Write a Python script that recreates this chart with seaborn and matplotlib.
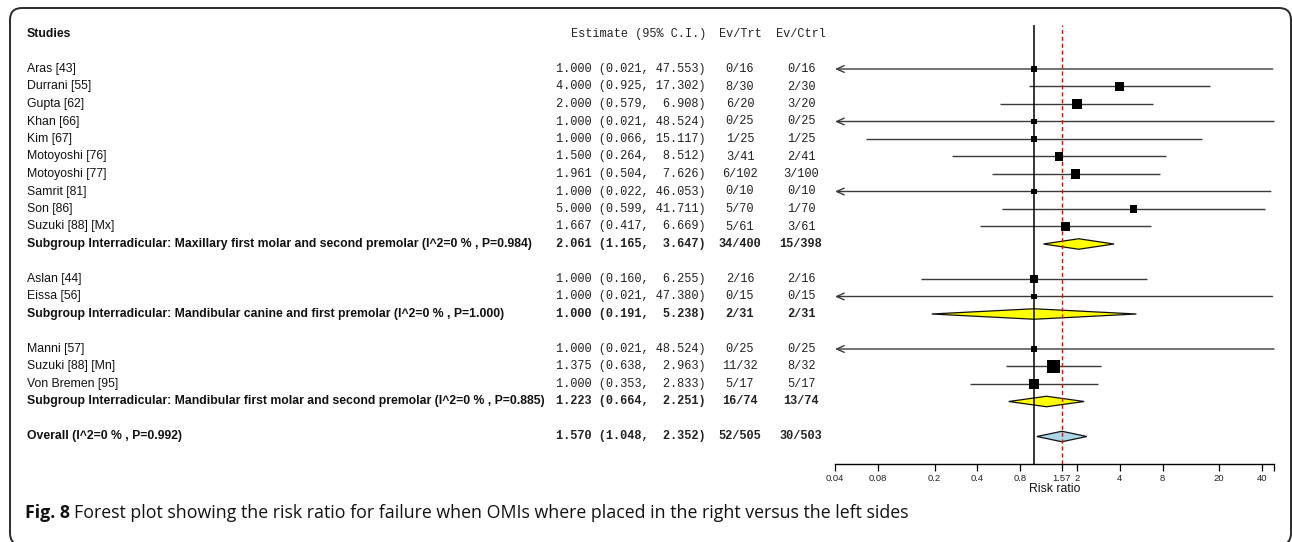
import numpy as np
import matplotlib
matplotlib.use("Agg")
import matplotlib.pyplot as plt
import matplotlib.transforms as mtransforms
from matplotlib.patches import FancyBboxPatch
from matplotlib.ticker import FixedLocator, NullFormatter
import seaborn as sns

# ---- data -------------------------------------------------------------
studies = ["Aras [43]", "Durrani [55]", "Gupta [62]", "Khan [66]", "Kim [67]",
           "Motoyoshi [76]", "Motoyoshi [77]", "Samrit [81]", "Son [86]",
           "Suzuki [88] [Mx]",
           "Aslan [44]", "Eissa [56]",
           "Manni [57]", "Suzuki [88] [Mn]", "Von Bremen [95]"]
study_group = [0, 0, 0, 0, 0, 0, 0, 0, 0, 0, 1, 1, 2, 2, 2]
study_rr = [1.000, 4.000, 2.000, 1.000, 1.000, 1.500, 1.961, 1.000, 5.000, 1.667,
            1.000, 1.000, 1.000, 1.375, 1.000]
study_lo = [0.021, 0.925, 0.579, 0.021, 0.066, 0.264, 0.504, 0.022, 0.599, 0.417,
            0.160, 0.021, 0.021, 0.638, 0.353]
study_hi = [47.553, 17.302, 6.908, 48.524, 15.117, 8.512, 7.626, 46.053, 41.711, 6.669,
            6.255, 47.380, 48.524, 2.963, 2.833]
study_ev_trt = ["0/16", "8/30", "6/20", "0/25", "1/25", "3/41", "6/102", "0/10", "5/70", "5/61",
                "2/16", "0/15", "0/25", "11/32", "5/17"]
study_ev_ctrl = ["0/16", "2/30", "3/20", "0/25", "1/25", "2/41", "3/100", "0/10", "1/70", "3/61",
                 "2/16", "0/15", "0/25", "8/32", "5/17"]

subgroups = ["Maxillary first molar and second premolar",
             "Mandibular canine and first premolar",
             "Mandibular first molar and second premolar"]
subgroup_i2 = [0, 0, 0]
subgroup_p = [0.984, 1.000, 0.885]
subgroup_rr = [2.061, 1.000, 1.223]
subgroup_lo = [1.165, 0.191, 0.664]
subgroup_hi = [3.647, 5.238, 2.251]
subgroup_ev_trt = ["34/400", "2/31", "16/74"]
subgroup_ev_ctrl = ["15/398", "2/31", "13/74"]

overall_i2 = 0
overall_p = 0.992
overall_rr = 1.570
overall_lo = 1.048
overall_hi = 2.352
overall_ev_trt = "52/505"
overall_ev_ctrl = "30/503"

tick_values = [0.04, 0.08, 0.2, 0.4, 0.8, 1.57, 2, 4, 8, 20, 40]
tick_labels = ["0.04", "0.08", "0.2", "0.4", "0.8", "1.57", "2", "4", "8", "20", "40"]
x_label = "Risk ratio"
caption_head = "Fig. 8"
caption_body = ("Forest plot showing the risk ratio for failure when OMIs where "
                "placed in the right versus the left sides")

# ---- style ------------------------------------------------------------
sns.set_theme(style="white")
plt.rcParams["font.family"] = ["Liberation Sans", "DejaVu Sans"]
MONO = ["Liberation Mono", "DejaVu Sans Mono"]
W, H = 1292, 542
fig = plt.figure(figsize=(W / 100, H / 100), dpi=100)
fig.patch.set_facecolor("white")

# forest panel: rows are laid out 17.5 px apart, header row at y=34 px
ROW0, ROWH = 34.0, 17.5
top_px, bot_px, left_px, right_px = 25, 464, 835, 1274
ax = fig.add_axes([left_px / W, 1 - bot_px / H, (right_px - left_px) / W, (bot_px - top_px) / H])
ax.set_xscale("log")
xmin, xmax = tick_values[0], max(study_hi)
ax.set_xlim(xmin, xmax)
ax.set_ylim((bot_px - ROW0) / ROWH, (top_px - ROW0) / ROWH)
ax.patch.set_alpha(0)

# row layout: studies of a group, its summary, one blank row
study_row, sub_row = [], []
k = 2
for g in range(len(subgroups)):
    for i, sg in enumerate(study_group):
        if sg == g:
            study_row.append(k)
            k += 1
    sub_row.append(k)
    k += 2
overall_row = k

line_col = "#3a3a3a"
# confidence intervals
for r, lo, hi in zip(study_row, study_lo, study_hi):
    if lo < xmin:
        ax.annotate("", xy=(xmin, r), xytext=(hi, r), annotation_clip=False,
                    arrowprops=dict(arrowstyle="->,head_length=0.45,head_width=0.2",
                                    color=line_col, lw=1.0, shrinkA=0, shrinkB=0))
    else:
        ax.hlines(r, lo, hi, color=line_col, lw=1.0, zorder=2)

# study squares sized by inverse-variance weight
se = (np.log(study_hi) - np.log(study_lo)) / (2 * 1.96)
weight = 1 / se ** 2
side_pt = 7.8 * weight ** 0.25 * 72 / 100
sns.scatterplot(x=study_rr, y=study_row, s=side_pt ** 2, marker="s", color="black",
                linewidth=0, ax=ax, legend=False, zorder=5)

# summary diamonds
def diamond(r, est, lo, hi, face):
    h = 0.3
    ax.fill([lo, est, hi, est], [r, r - h, r, r + h], facecolor=face,
            edgecolor="#111111", lw=0.9, zorder=3)

for r, est, lo, hi in zip(sub_row, subgroup_rr, subgroup_lo, subgroup_hi):
    diamond(r, est, lo, hi, "#FFFF00")
diamond(overall_row, overall_rr, overall_lo, overall_hi, "#ADD8E6")

ax.axvline(1, color="black", lw=1.1, zorder=4)
ax.axvline(overall_rr, color="#FF0000", lw=1.0, ls=(0, (3, 2)), zorder=4)

# axis styling
for s in ("top", "left", "right"):
    ax.spines[s].set_visible(False)
ax.spines["bottom"].set_color("black")
ax.spines["bottom"].set_linewidth(1.0)
ax.set_yticks([])
ax.xaxis.set_major_locator(FixedLocator(tick_values))
ax.set_xticklabels(tick_labels)
ax.xaxis.set_minor_locator(FixedLocator([xmax]))
ax.xaxis.set_minor_formatter(NullFormatter())
ax.tick_params(axis="x", which="both", bottom=True, direction="out", length=5,
               width=0.9, color="black", labelsize=6.8, pad=2, labelcolor="#222222")
ax.set_xlabel(x_label, fontsize=8.8, labelpad=0, color="#111111")
ax.grid(False)

# ---- text columns -----------------------------------------------------
tr = mtransforms.blended_transform_factory(fig.transFigure, ax.transData)
X_NAME, X_EST, X_TRT, X_CTRL = 27 / W, 706 / W, 740 / W, 801 / W
NAME_FS, MONO_FS = 8.8, 8.6


def row_text(r, name, est, lo, hi, trt, ctrl, bold=False):
    fw = "bold" if bold else "normal"
    ax.text(X_NAME, r, name, transform=tr, ha="left", va="center", fontsize=NAME_FS,
            fontweight=fw, color="#111111")
    ax.text(X_EST, r, f"{est:.3f} ({lo:.3f}, {hi:6.3f})", transform=tr, ha="right",
            va="center", fontsize=MONO_FS, family=MONO, fontweight=fw, color="#222222")
    ax.text(X_TRT, r, trt, transform=tr, ha="center", va="center", fontsize=MONO_FS,
            family=MONO, fontweight=fw, color="#222222")
    ax.text(X_CTRL, r, ctrl, transform=tr, ha="center", va="center", fontsize=MONO_FS,
            family=MONO, fontweight=fw, color="#222222")


ax.text(X_NAME, 0, "Studies", transform=tr, ha="left", va="center", fontsize=NAME_FS,
        fontweight="bold", color="#111111")
ax.text(X_EST, 0, "Estimate (95% C.I.)", transform=tr, ha="right", va="center",
        fontsize=MONO_FS, family=MONO, color="#222222")
ax.text(X_TRT, 0, "Ev/Trt", transform=tr, ha="center", va="center",
        fontsize=MONO_FS, family=MONO, color="#222222")
ax.text(X_CTRL, 0, "Ev/Ctrl", transform=tr, ha="center", va="center",
        fontsize=MONO_FS, family=MONO, color="#222222")

for i, r in enumerate(study_row):
    row_text(r, studies[i], study_rr[i], study_lo[i], study_hi[i],
             study_ev_trt[i], study_ev_ctrl[i])
for j, r in enumerate(sub_row):
    name = f"Subgroup Interradicular: {subgroups[j]} (I^2={subgroup_i2[j]} % , P={subgroup_p[j]:.3f})"
    row_text(r, name, subgroup_rr[j], subgroup_lo[j], subgroup_hi[j],
             subgroup_ev_trt[j], subgroup_ev_ctrl[j], bold=True)
row_text(overall_row, f"Overall (I^2={overall_i2} % , P={overall_p:.3f})",
         overall_rr, overall_lo, overall_hi, overall_ev_trt, overall_ev_ctrl, bold=True)

# ---- frame and caption -------------------------------------------------
frame = FancyBboxPatch((0.10, -0.03), 12.81, 5.37,
                       boxstyle="round,pad=0,rounding_size=0.12",
                       transform=fig.dpi_scale_trans, fill=False,
                       lw=1.4, edgecolor="#2a2a2a", clip_on=False)
fig.add_artist(frame)

cap_y = 1 - 513 / H
CAP_FONT = ["Open Sans", "DejaVu Sans"]
CAP_FS = 12.8
head = fig.text(25 / W, cap_y, caption_head, ha="left", va="center", fontsize=CAP_FS,
                fontweight="bold", family=CAP_FONT, color="#111111")
renderer = fig.canvas.get_renderer()
bb = head.get_window_extent(renderer)
fig.text((bb.x1 + 4) / W, cap_y, caption_body, ha="left", va="center", fontsize=CAP_FS,
         family=CAP_FONT, color="#111111")

fig.savefig("out.png", dpi=100, facecolor="white")
